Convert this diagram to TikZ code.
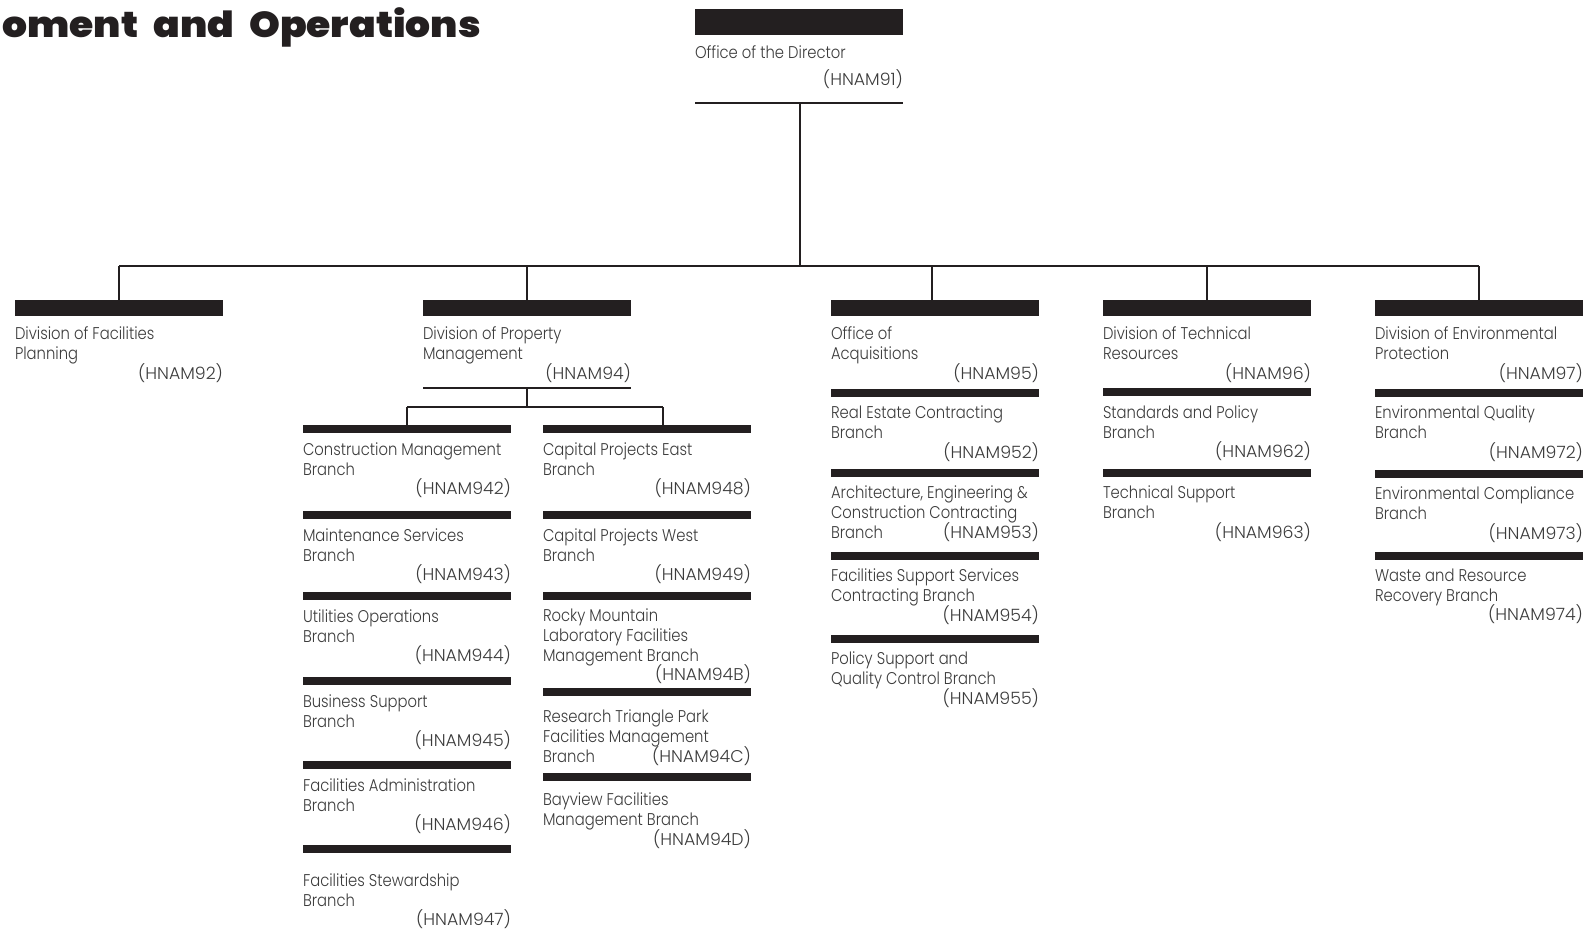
\documentclass[tikz,border=0pt]{standalone}
\usepackage{fontspec}
\newfontfamily\bodyfont{Poppins Light}[FakeStretch=0.87]
\newfontfamily\codefont{Poppins Light}[FakeStretch=1.02]
\newfontfamily\titlefont{Poppins Black}[FakeStretch=1.09]
\definecolor{ink}{HTML}{231F20}
\definecolor{txtgray}{HTML}{3C3C3C}
\newcommand\widespaces{\spaceskip=0.42em\relax}
\tikzset{
  bar/.style={rectangle, fill=ink, draw=none, inner sep=0pt, outer sep=0pt, minimum width=208pt},
  txt/.style={anchor=base west, inner sep=0pt, outer sep=0pt, font=\bodyfont\fontsize{17}{20}\selectfont, text=txtgray},
  code/.style={txt, anchor=base east, font=\codefont\fontsize{17}{20}\selectfont},
  conn/.style={draw=ink, line width=1.2pt},
}
% #1 id, #2 x left, #3 bar top, #4 bar height, #5 first baseline, #6 lines, #7 code baseline, #8 code
\newcommand\orgunit[8]{%
  \node[bar, minimum height=#4pt] (#1) at ({#2+104},{#3+#4/2}) {};
  \foreach \t [count=\i] in {#6} {\node[txt] (#1-l\i) at ({#2},{#5+20*(\i-1)}) {\t};}
  \node[code] (#1-c) at ({#2+208},{#7}) {#8};
}
\begin{document}
\begin{tikzpicture}[x=1pt,y=-1pt]
\useasboundingbox (0,0) rectangle (1591,932);
\fill[white] (0,0) rectangle (1591,932);

% title
\node[anchor=base east, inner sep=0pt, font=\titlefont\fontsize{36}{36}\selectfont, text=ink] (title) at (481,37) {\widespaces oment and Operations};

% director
\node[bar, minimum height=26pt] (dir) at (799,22) {};
\node[txt] (dir-l1) at (695,58) {Office of the Director};
\node[code] (dir-c) at (903,85) {(HNAM91)};
\coordinate (dirulW) at (695,103);
\coordinate (dirulE) at (903,103);
\coordinate (dirdrop) at (800,103);
\coordinate (busL) at (119,266);
\coordinate (busR) at (1479,266);

% divisions
\orgunit{d92}{15}{300}{16}{339}{Division of Facilities, Planning}{379}{(HNAM92)}
\orgunit{d94}{423}{300}{16}{339}{Division of Property, Management}{379}{(HNAM94)}
\orgunit{d95}{831}{300}{16}{339}{Office of, Acquisitions}{379}{(HNAM95)}
\orgunit{d96}{1103}{300}{16}{339}{Division of Technical, Resources}{379}{(HNAM96)}
\orgunit{d97}{1375}{300}{16}{339}{Division of Environmental, Protection}{379}{(HNAM97)}

% property management, left column
\orgunit{b942}{303}{425}{8}{455}{Construction Management, Branch}{494}{(HNAM942)}
\orgunit{b943}{303}{511}{8}{541}{Maintenance Services, Branch}{580}{(HNAM943)}
\orgunit{b944}{303}{592}{8}{622}{Utilities Operations, Branch}{661}{(HNAM944)}
\orgunit{b945}{303}{677}{8}{707}{Business Support, Branch}{746}{(HNAM945)}
\orgunit{b946}{303}{761}{8}{791}{Facilities Administration, Branch}{830}{(HNAM946)}
\orgunit{b947}{303}{845}{8}{886}{Facilities Stewardship, Branch}{925}{(HNAM947)}

% property management, right column
\orgunit{b948}{543}{425}{8}{455}{Capital Projects East, Branch}{494}{(HNAM948)}
\orgunit{b949}{543}{511}{8}{541}{Capital Projects West, Branch}{580}{(HNAM949)}
\orgunit{b94B}{543}{592}{8}{621}{Rocky Mountain, Laboratory Facilities, Management Branch}{680}{(HNAM94B)}
\orgunit{b94C}{543}{688}{8}{722}{Research Triangle Park, Facilities Management, Branch}{762}{(HNAM94C)}
\orgunit{b94D}{543}{773}{8}{805}{Bayview Facilities, Management Branch}{845}{(HNAM94D)}

% acquisitions
\orgunit{b952}{831}{389}{8}{418}{Real Estate Contracting, Branch}{458}{(HNAM952)}
\orgunit{b953}{831}{469}{8}{498}{{Architecture, Engineering \&}, Construction Contracting, Branch}{538}{(HNAM953)}
\orgunit{b954}{831}{552}{8}{581}{Facilities Support Services, Contracting Branch}{621}{(HNAM954)}
\orgunit{b955}{831}{635}{8}{664}{Policy Support and, Quality Control Branch}{704}{(HNAM955)}

% technical resources
\orgunit{b962}{1103}{388}{8}{418}{Standards and Policy, Branch}{457}{(HNAM962)}
\orgunit{b963}{1103}{469}{8}{498}{Technical Support, Branch}{538}{(HNAM963)}

% environmental protection
\orgunit{b972}{1375}{389}{8}{418}{Environmental Quality, Branch}{458}{(HNAM972)}
\orgunit{b973}{1375}{470}{8}{499}{Environmental Compliance, Branch}{539}{(HNAM973)}
\orgunit{b974}{1375}{552}{8}{581}{Waste and Resource, Recovery Branch}{620}{(HNAM974)}

% connectors: director to divisions
\draw[conn] (dirulW) -- (dirulE);
\draw[conn] (dirdrop) -- (dirdrop |- busL);
\draw[conn] (busL) -- (busR);
\draw[conn] (d92.north) -- (d92.north |- busL);
\draw[conn] (d94.north) -- (d94.north |- busL);
\draw[conn] ([xshift=-3pt]d95.north) -- ([xshift=-3pt]d95.north |- busL);
\draw[conn] (d96.north) -- (d96.north |- busL);
\draw[conn] (d97.north) -- (d97.north |- busL);

% property management connectors
\coordinate (pmulW) at (423,388);
\coordinate (pmulE) at (631,388);
\coordinate (pmdrop) at (527,388);
\coordinate (pmbusL) at (407,407);
\coordinate (pmbusR) at (663,407);
\draw[conn] (pmulW) -- (pmulE);
\draw[conn] (pmdrop) -- (pmdrop |- pmbusL);
\draw[conn] (pmbusL) -- (pmbusR);
\draw[conn] (pmbusL) -- (pmbusL |- b942.north);
\draw[conn] (pmbusR) -- (pmbusR |- b948.north);
\end{tikzpicture}
\end{document}
